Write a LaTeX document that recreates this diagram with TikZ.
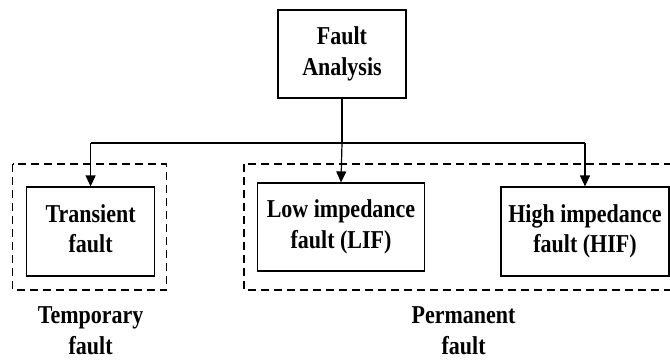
\documentclass[tikz,border=0pt]{standalone}
\usepackage{fontspec}
\setmainfont{Liberation Serif}
\usetikzlibrary{arrows.meta}
% bold, slightly tall two-line label
\newcommand{\talltext}[1]{\scalebox{1}[1.17]{\bfseries\fontsize{22}{26}\selectfont
  \begin{tabular}{@{}c@{}}#1\end{tabular}}}
\begin{document}
\begin{tikzpicture}[x=1pt,y=-1pt,
  box/.style={draw,line width=1.2pt,minimum width=#1,align=center,inner sep=0pt},
  group/.style={draw,line width=1.2pt,dash pattern=on 8pt off 5pt},
  link/.style={line width=1.2pt},
  arrow/.style={link,-{Triangle[width=10pt,length=11pt]}},
  caption/.style={align=center,inner sep=0pt}]
\useasboundingbox (0,0) rectangle (670,361);

% grouping frames
\draw[group] (12.8,164) rectangle (166.6,290);
\draw[group] (244,164) rectangle (683,290);

% root and leaves
\node[box=128pt,minimum height=88pt] (root) at (342,54) {\raisebox{-3pt}{\talltext{Fault\\Analysis}}};
\node[box=128pt,minimum height=89pt] (trans) at (90.6,231.5) {\talltext{Transient\\fault}};
\node[box=167pt,minimum height=88pt] (lif) at (341,227) {\talltext{Low impedance\\fault (LIF)}};
\node[box=168pt,minimum height=89pt] (hif) at (585,231.5) {\talltext{High impedance\\fault (HIF)}};

% bus
\coordinate (bus) at (342,143);
\coordinate (busL) at (trans.north |- bus);
\coordinate (busR) at (hif.north |- bus);
\draw[link] (root.south) -- (bus);
\draw[link] (busL) -- (busR);
\draw[arrow] (busL) -- (trans.north);
\draw[arrow] (bus) -- (lif.north);
\draw[arrow] (busR) -- (hif.north);

% group captions
\node[caption] (temp) at (90.6,333) {\talltext{Temporary\\fault}};
\node[caption] (perm) at (463.6,333) {\talltext{Permanent\\fault}};
\end{tikzpicture}
\end{document}
